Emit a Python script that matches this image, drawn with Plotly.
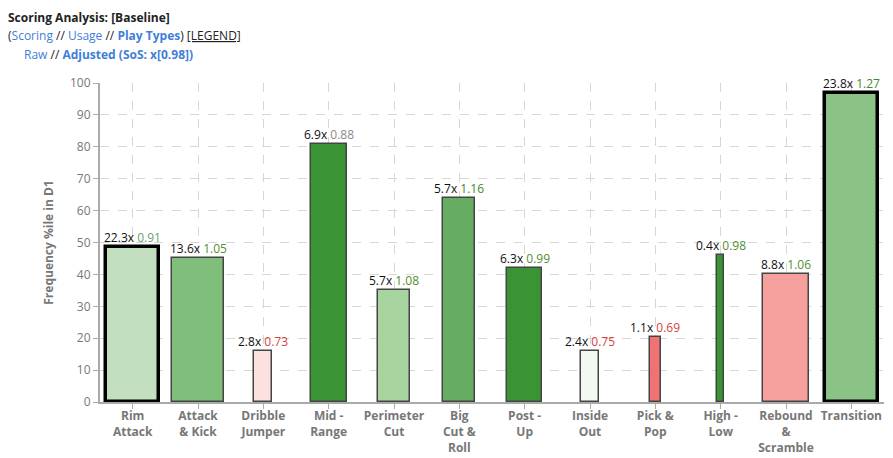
import plotly.graph_objects as go

categories = ["Rim<br>Attack", "Attack<br>& Kick", "Dribble<br>Jumper", "Mid -<br>Range",
              "Perimeter<br>Cut", "Big<br>Cut &<br>Roll", "Post -<br>Up", "Inside<br>Out",
              "Pick &<br>Pop", "High -<br>Low", "Rebound<br>&<br>Scramble", "Transition"]
freq_pctile = [48.5, 45, 16, 81, 35, 64, 42, 16, 20.5, 46, 40, 97]
usage_mult = ["22.3x", "13.6x", "2.8x", "6.9x", "5.7x", "5.7x", "6.3x", "2.4x", "1.1x", "0.4x", "8.8x", "23.8x"]
efficiency = ["0.91", "1.05", "0.73", "0.88", "1.08", "1.16", "0.99", "0.75", "0.69", "0.98", "1.06", "1.27"]
eff_colors = ["#6e9e6e", "#4f8f2f", "#d9413d", "#8a8a8a", "#4f8f2f", "#3f8a2a", "#4f8f2f",
              "#d9413d", "#d9413d", "#4f8f2f", "#4f8f2f", "#3f8a2a"]
bar_widths = [0.82, 0.8, 0.28, 0.55, 0.49, 0.49, 0.54, 0.27, 0.16, 0.11, 0.71, 0.81]
bar_colors = ["#c2dfc0", "#7fbf7b", "#fde0e0", "#3a9434", "#a8d4a0", "#66ac62", "#3a9434",
              "#f3f8f2", "#f07272", "#3a9434", "#f6a09e", "#8bc286"]
line_widths = [3.5, 1.5, 1.5, 1.5, 1.5, 1.5, 1.5, 1.5, 1.5, 1.5, 1.5, 3.5]
line_colors = ["#000000" if w > 2 else "#444444" for w in line_widths]

FONT = "Segoe UI, Open Sans, sans-serif"
xs = list(range(len(categories)))

fig = go.Figure()
fig.add_trace(go.Bar(
    x=xs, y=freq_pctile, width=bar_widths,
    marker=dict(color=bar_colors, line=dict(color=line_colors, width=line_widths)),
    hoverinfo="skip",
))

L, R, T, B = 100, 9, 83, 56
W, H = 893, 458
pw, ph = W - L - R, H - T - B

for i in xs:
    fig.add_annotation(
        x=i, y=freq_pctile[i], xref="x", yref="y", yanchor="bottom", showarrow=False,
        yshift=-1,
        text=f"{usage_mult[i]} <span style='color:{eff_colors[i]}'>{efficiency[i]}</span>",
        font=dict(family=FONT, size=12, color="#111111"),
    )

def px_to_paper(px, py):
    return (px - L) / pw, (H - B - py) / ph

blue = "#3f7fd9"
header = [
    (6, 17, "<b>Scoring Analysis: [Baseline]</b>"),
    (6, 35, f"(<span style='color:{blue}'>Scoring</span> // <span style='color:{blue}'>Usage</span> // "
            f"<span style='color:{blue}'><b>Play Types</b></span>) <u>[LEGEND]</u>"),
    (22, 54, f"<span style='color:{blue}'>Raw</span> // <span style='color:{blue}'><b>Adjusted (SoS: x[0.98])</b></span>"),
]
for (hx, hy, txt) in header:
    px, py = px_to_paper(hx, hy)
    fig.add_annotation(x=px, y=py, xref="paper", yref="paper", xanchor="left", yanchor="middle",
                       showarrow=False, text=txt, font=dict(family=FONT, size=12, color="#222222"))

fig.update_layout(
    width=W, height=H,
    margin=dict(l=L, r=R, t=T, b=B, pad=0, autoexpand=False),
    plot_bgcolor="white", paper_bgcolor="white",
    showlegend=False,
    font=dict(family=FONT),
    bargap=0,
)
fig.update_xaxes(
    range=[-0.5, 11.5], tickmode="array", tickvals=xs, ticktext=categories,
    showgrid=True, griddash="dash", gridcolor="#d6d6d6", gridwidth=1,
    showline=True, linecolor="#aaaaaa", linewidth=2,
    ticks="outside", ticklen=5, tickcolor="#aaaaaa",
    tickfont=dict(family=FONT, size=12, color="#777777", weight="bold"),
    ticklabelstandoff=-3,
    zeroline=False, fixedrange=True, automargin=False,
)
fig.update_yaxes(
    range=[0, 100], tickmode="array", tickvals=list(range(0, 101, 10)),
    showgrid=True, griddash="dash", gridcolor="#d6d6d6", gridwidth=1,
    showline=True, linecolor="#aaaaaa", linewidth=2,
    ticks="outside", ticklen=5, tickcolor="#aaaaaa",
    tickfont=dict(family=FONT, size=12, color="#777777"),
    title=dict(text="<b>Frequency %ile in D1</b>", font=dict(family=FONT, size=12, color="#777777"), standoff=14),
    zeroline=False, fixedrange=True, automargin=False,
)

fig.write_html("out.html")
